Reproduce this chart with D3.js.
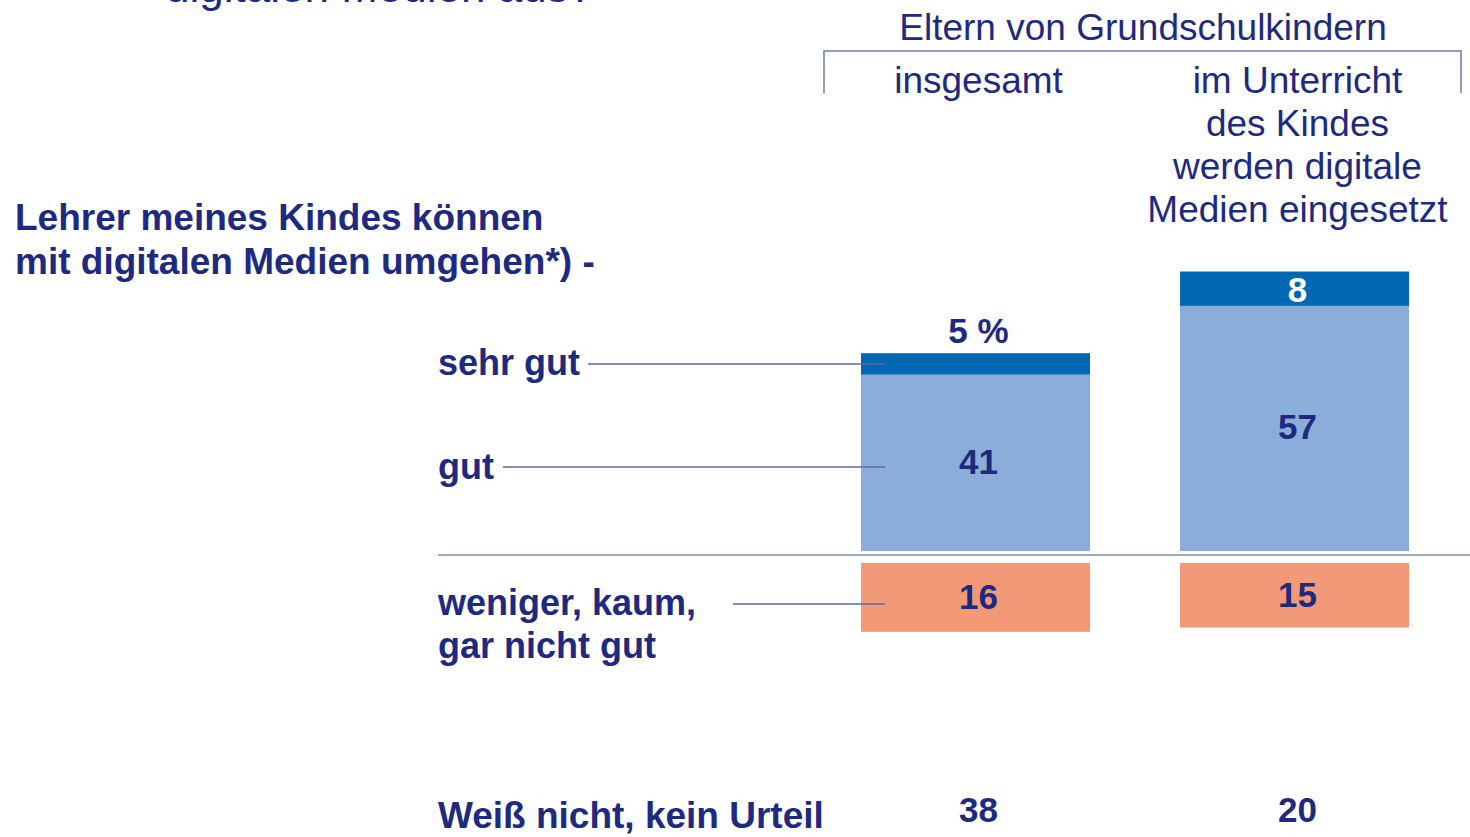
<!DOCTYPE html>
<html>
<head>
<meta charset="utf-8">
<script src="https://cdn.jsdelivr.net/npm/d3@7"></script>
<style>
  body { margin: 0; background: #fff; }
  svg { display: block; }
  text { font-family: "Liberation Sans", Arial, sans-serif; }
  .bold { font-weight: bold; fill: #1e2a80; }
  .head { font-weight: normal; fill: #1e2a80; }
</style>
</head>
<body>
<div id="chart"></div>
<script>
// columns of the chart
var groups = ["insgesamt", "im Unterricht"];
var groupHeads = [["insgesamt"], ["im Unterricht", "des Kindes", "werden digitale", "Medien eingesetzt"]];

// values in percent
var sehrGut = [5, 8];
var gut = [41, 57];
var wenigerGut = [16, 15];
var weissNicht = [38, 20];

var svgWidth = 1470;
var svgHeight = 837;

var svg = d3.select("#chart")
  .append("svg")
  .attr("width", svgWidth)
  .attr("height", svgHeight);

var navy = "#1e2a80";
var lineColor = "#8e9cc2";

// scales
var x = d3.scaleBand()
  .domain(groups)
  .range([861, 1409])
  .paddingInner(0.282)
  .paddingOuter(0);

var len = d3.scaleLinear().domain([0, 100]).range([0, 430]);

var posBase = 551;   // bottom of the positive bars
var zeroLine = 555;
var negBase = 563;   // top of the negative bars

var data = groups.map(function(g, i) {
  return { g: g, sehr: sehrGut[i], gut: gut[i], neg: wenigerGut[i], wn: weissNicht[i] };
});

// cut off question at the very top
svg.append("text")
  .attr("class", "head")
  .attr("x", 165)
  .attr("y", 2)
  .style("font-size", "44px")
  .text("digitalen Medien aus?");

// column header
svg.append("text")
  .attr("class", "head")
  .attr("x", 1143)
  .attr("y", 40)
  .attr("text-anchor", "middle")
  .style("font-size", "37px")
  .text("Eltern von Grundschulkindern");

svg.append("path")
  .attr("d", "M824,93V51H1461V93")
  .attr("fill", "none")
  .attr("stroke", lineColor)
  .attr("stroke-width", 2);

groupHeads.forEach(function(lines, i) {
  var cx = x(groups[i]) + x.bandwidth() / 2 + 3;
  svg.append("text")
    .attr("class", "head")
    .attr("text-anchor", "middle")
    .style("font-size", "37px")
    .selectAll("tspan")
    .data(lines)
    .enter()
    .append("tspan")
    .attr("x", cx)
    .attr("y", (d, j) => 93 + j * 43)
    .text(d => d);
});

// question title on the left
svg.append("text")
  .attr("class", "bold")
  .style("font-size", "37px")
  .selectAll("tspan")
  .data(["Lehrer meines Kindes können", "mit digitalen Medien umgehen*) -"])
  .enter()
  .append("tspan")
  .attr("x", 15)
  .attr("y", (d, j) => 230 + j * 44)
  .text(d => d);

// zero line
svg.append("line")
  .attr("x1", 438).attr("x2", 1470)
  .attr("y1", zeroLine).attr("y2", zeroLine)
  .attr("stroke", "#a3a8c4")
  .attr("stroke-width", 2);

// bars
var bars = svg.append("g");

bars.selectAll(".gut")
  .data(data)
  .enter()
  .append("rect")
  .attr("x", d => x(d.g))
  .attr("width", x.bandwidth())
  .attr("y", d => posBase - len(d.gut))
  .attr("height", d => len(d.gut))
  .attr("fill", "#8aaed9");

bars.selectAll(".sehr")
  .data(data)
  .enter()
  .append("rect")
  .attr("x", d => x(d.g))
  .attr("width", x.bandwidth())
  .attr("y", d => posBase - len(d.gut + d.sehr))
  .attr("height", d => len(d.sehr))
  .attr("fill", "#0067b3");

bars.selectAll(".neg")
  .data(data)
  .enter()
  .append("rect")
  .attr("x", d => x(d.g))
  .attr("width", x.bandwidth())
  .attr("y", negBase)
  .attr("height", d => len(d.neg))
  .attr("fill", "#f29a78");

// value labels
var vals = svg.append("g")
  .attr("text-anchor", "middle")
  .style("font-size", "35px");

vals.selectAll(".vs")
  .data(data)
  .enter()
  .append("text")
  .attr("class", "bold")
  .attr("x", d => x(d.g) + x.bandwidth() / 2 + 3)
  .attr("y", (d, i) => i === 0 ? posBase - len(d.gut + d.sehr) - 10 : posBase - len(d.gut + d.sehr / 2) + 13)
  .style("fill", (d, i) => i === 0 ? navy : "#fff")
  .text((d, i) => i === 0 ? d.sehr + " %" : d.sehr);

vals.selectAll(".vg")
  .data(data)
  .enter()
  .append("text")
  .attr("class", "bold")
  .attr("x", d => x(d.g) + x.bandwidth() / 2 + 3)
  .attr("y", d => posBase - len(d.gut) / 2 + 11)
  .text(d => d.gut);

vals.selectAll(".vn")
  .data(data)
  .enter()
  .append("text")
  .attr("class", "bold")
  .attr("x", d => x(d.g) + x.bandwidth() / 2 + 3)
  .attr("y", d => negBase + len(d.neg) / 2 + 12)
  .text(d => d.neg);

vals.selectAll(".vw")
  .data(data)
  .enter()
  .append("text")
  .attr("class", "bold")
  .attr("x", d => x(d.g) + x.bandwidth() / 2 + 3)
  .attr("y", 822)
  .text(d => d.wn);

// category labels with leader lines
var cats = [
  { lines: ["sehr gut"], y: 375, ly: 364, x1: 588 },
  { lines: ["gut"], y: 479, ly: 467, x1: 503 },
  { lines: ["weniger, kaum,", "gar nicht gut"], y: 615, ly: 604, x1: 733 }
];

cats.forEach(function(c) {
  svg.append("text")
    .attr("class", "bold")
    .style("font-size", "36px")
    .selectAll("tspan")
    .data(c.lines)
    .enter()
    .append("tspan")
    .attr("x", 438)
    .attr("y", (d, j) => c.y + j * 43)
    .text(d => d);
  svg.append("line")
    .attr("x1", c.x1).attr("x2", 885)
    .attr("y1", c.ly).attr("y2", c.ly)
    .attr("stroke", "#5e6aa0")
    .attr("stroke-width", 1.5);
});

svg.append("text")
  .attr("class", "bold")
  .attr("x", 438)
  .attr("y", 828)
  .style("font-size", "37px")
  .text("Weiß nicht, kein Urteil");
</script>
</body>
</html>
